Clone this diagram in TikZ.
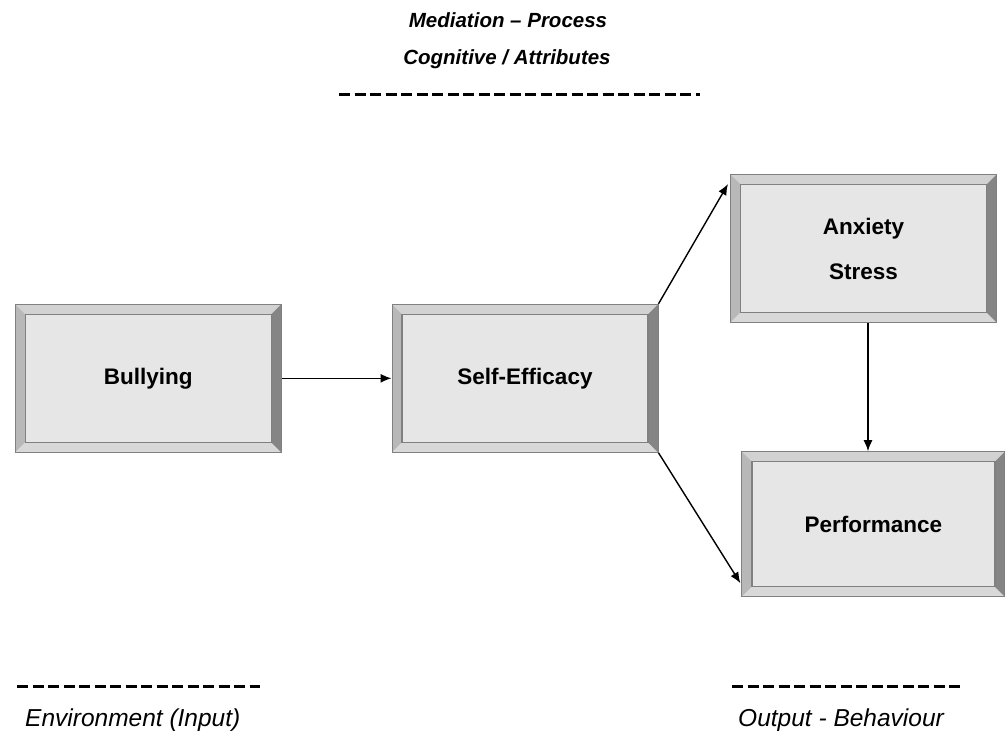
\documentclass[tikz,border=0pt]{standalone}
\usepackage{fontspec}
\setmainfont{Liberation Sans}
\usetikzlibrary{arrows.meta}

\definecolor{facegray}{HTML}{E6E6E6}
\definecolor{toplight}{HTML}{D2D2D2}
\definecolor{leftmid}{HTML}{B8B8B8}
\definecolor{botlight}{HTML}{D8D8D8}
\definecolor{rightdark}{HTML}{858585}

\tikzset{
  bevelbox/.style={draw=gray, line width=1pt, fill=facegray, minimum width=266pt, minimum height=148pt,
    inner sep=0pt, align=center, font=\bfseries\fontsize{22.5}{45}\selectfont,
    path picture={
      \fill[toplight] (path picture bounding box.north west) -- (path picture bounding box.north east)
        -- ([shift={(-10,10)}]path picture bounding box.north east) -- ([shift={(10,10)}]path picture bounding box.north west) -- cycle;
      \fill[leftmid] (path picture bounding box.north west) -- (path picture bounding box.south west)
        -- ([shift={(10,-10)}]path picture bounding box.south west) -- ([shift={(10,10)}]path picture bounding box.north west) -- cycle;
      \fill[botlight] (path picture bounding box.south west) -- (path picture bounding box.south east)
        -- ([shift={(-10,-10)}]path picture bounding box.south east) -- ([shift={(10,-10)}]path picture bounding box.south west) -- cycle;
      \fill[rightdark] (path picture bounding box.north east) -- (path picture bounding box.south east)
        -- ([shift={(-10,-10)}]path picture bounding box.south east) -- ([shift={(-10,10)}]path picture bounding box.north east) -- cycle;
      \draw[gray, line width=1.2pt] ([shift={(10,10)}]path picture bounding box.north west) rectangle ([shift={(-10,-10)}]path picture bounding box.south east);
    }},
  arr/.style={-{Latex[length=11pt,width=9pt]}, line width=1.4pt},
  dashline/.style={line width=3pt, dash pattern=on 11pt off 4.5pt},
  headtext/.style={font=\bfseries\itshape\fontsize{20.5}{24}\selectfont},
  sidetext/.style={font=\itshape\fontsize{24.5}{28}\selectfont, anchor=west, inner sep=0pt}
}

\begin{document}
\begin{tikzpicture}[x=1pt, y=-1pt]
  \useasboundingbox (0,0) rectangle (1005,731);

  \node[headtext] (medtitle) at (508,20) {Mediation -- Process};
  \node[headtext] (cogtitle) at (507,59) {Cognitive / Attributes};
  \draw[dashline] (339,94) -- (700,94);

  \node[bevelbox] (bully) at (148.3,378.3) {Bullying};
  \node[bevelbox] (selfeff) at (525,378.3) {Self-Efficacy};
  \node[bevelbox] (anxiety) at (863.5,248.5) {Anxiety\\Stress};
  \node[bevelbox, minimum width=263pt, minimum height=145pt] (perf) at (873.4,524.2) {Performance};

  \draw[arr] (bully.east) -- (selfeff.west);
  \draw[arr] (selfeff.north east) -- ([shift={(-2,10)}]anxiety.north west);
  \draw[arr] (selfeff.south east) -- ([shift={(-1,-14)}]perf.south west);
  \coordinate (drop) at ([xshift=4.5]anxiety.south);
  \draw[arr] (drop) -- (drop |- perf.north);

  \draw[dashline] (17,686) -- (260,686);
  \draw[dashline] (732,686) -- (960,686);
  \node[sidetext] (envlabel) at (25,720) {Environment (Input)};
  \node[sidetext] (outlabel) at (738,720) {Output - Behaviour};
\end{tikzpicture}
\end{document}
